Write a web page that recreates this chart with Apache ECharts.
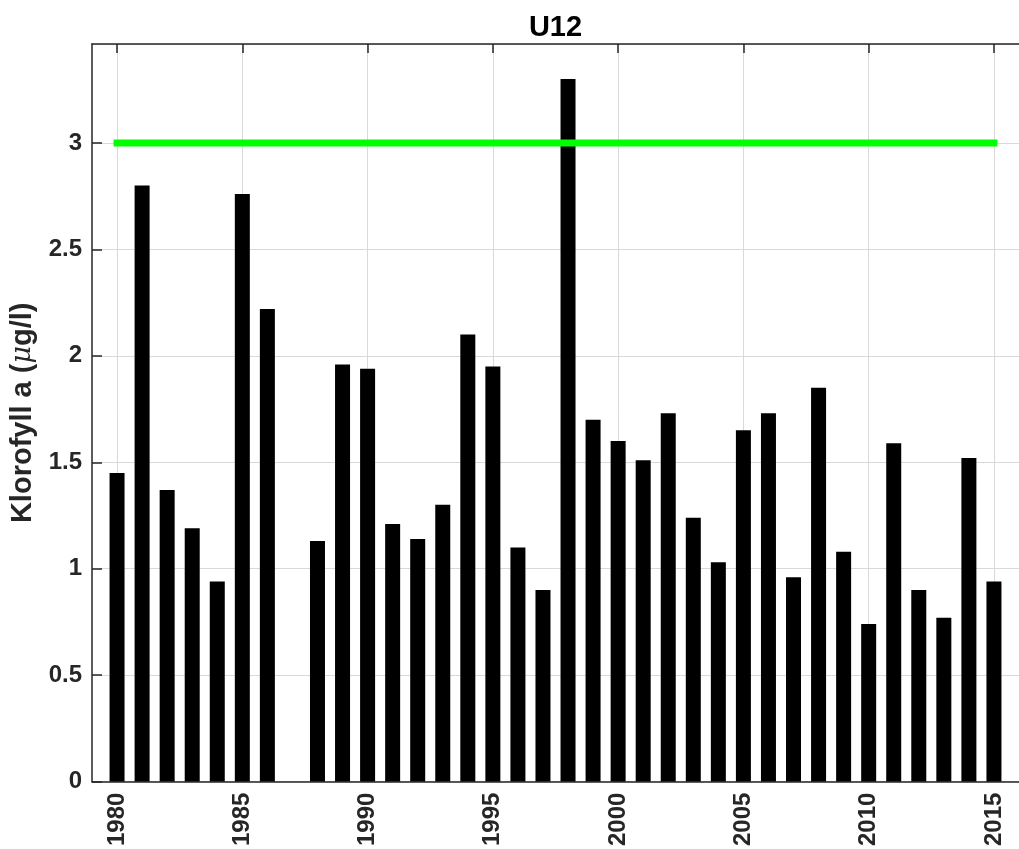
<!DOCTYPE html>
<html>
<head>
<meta charset="utf-8">
<script src="https://cdn.jsdelivr.net/npm/echarts@6/dist/echarts.min.js"></script>
<style>
  html, body { margin: 0; padding: 0; background: #fff; }
  #chart { width: 1019px; height: 849px; }
</style>
</head>
<body>
<div id="chart"></div>
<script>
    // axis runs a year beyond the data on each side
    var axisYears = [];
    for (var y = 1979; y <= 2016; y++) axisYears.push(String(y));

    var years = [1980, 1981, 1982, 1983, 1984, 1985, 1986, 1987, 1988, 1989,
        1990, 1991, 1992, 1993, 1994, 1995, 1996, 1997, 1998, 1999,
        2000, 2001, 2002, 2003, 2004, 2005, 2006, 2007, 2008, 2009,
        2010, 2011, 2012, 2013, 2014, 2015];
    var klorofyll = [1.45, 2.80, 1.37, 1.19, 0.94, 2.76, 2.22, null, 1.13, 1.96,
        1.94, 1.21, 1.14, 1.30, 2.10, 1.95, 1.10, 0.90, 3.30, 1.70,
        1.60, 1.51, 1.73, 1.24, 1.03, 1.65, 1.73, 0.96, 1.85, 1.08,
        0.74, 1.59, 0.90, 0.77, 1.52, 0.94];

    // target level, drawn from first to last year
    var limitYears = [1980, 2015];
    var limitValue = 3;

    var yTicks = ['0', '0.5', '1', '1.5', '2', '2.5', '3'];

    var font = "'Liberation Sans', Arial, Helvetica, sans-serif";
    var frame = '#262626';
    var grid = '#d9d9d9';

    function every5(index, value) {
        return Number(value) % 5 === 0;
    }

    var chart = echarts.init(document.getElementById('chart'), null, { renderer: 'canvas' });

    chart.setOption({
        animation: false,
        backgroundColor: '#fff',
        grid: {
            left: 92,
            top: 44,
            width: 937.5,
            height: 739,
            containLabel: false
        },
        xAxis: [{
            type: 'category',
            data: axisYears,
            boundaryGap: false,
            position: 'bottom',
            axisLine: { show: true, lineStyle: { color: frame, width: 1.5 } },
            axisTick: { show: true, inside: true, length: 9, interval: every5, lineStyle: { color: frame, width: 1.5 } },
            axisLabel: {
                interval: every5,
                rotate: 90,
                margin: 11,
                color: frame,
                fontFamily: font,
                fontWeight: 'bold',
                fontSize: 24
            },
            splitLine: { show: true, interval: every5, lineStyle: { color: grid, width: 1 } }
        }, {
            type: 'category',
            data: axisYears,
            boundaryGap: false,
            position: 'top',
            name: 'U12',
            nameLocation: 'middle',
            nameGap: 2,
            nameTextStyle: {
                color: '#000',
                fontFamily: font,
                fontWeight: 'bold',
                fontSize: 29,
                verticalAlign: 'bottom'
            },
            axisLine: { show: true, lineStyle: { color: frame, width: 1.5 } },
            axisTick: { show: true, inside: true, length: 9, interval: every5, lineStyle: { color: frame, width: 1.5 } },
            axisLabel: { show: false },
            splitLine: { show: false }
        }],
        yAxis: {
            type: 'value',
            min: 0,
            max: 3.465,
            interval: 0.5,
            name: '{b|Klorofyll a (}{m|μ}{b|g/l)}',
            nameLocation: 'middle',
            nameGap: 54,
            nameTextStyle: {
                rich: {
                    b: { color: frame, fontFamily: font, fontWeight: 'bold', fontSize: 29 },
                    m: { color: frame, fontFamily: "'DejaVu Serif', serif", fontStyle: 'italic', fontSize: 27 }
                }
            },
            axisLine: { show: true, lineStyle: { color: frame, width: 1.5 } },
            axisTick: { show: true, inside: true, length: 10, lineStyle: { color: frame, width: 1.5 } },
            axisLabel: {
                showMaxLabel: false,
                margin: 10,
                color: frame,
                fontFamily: font,
                fontWeight: 'bold',
                fontSize: 24,
                formatter: function (v) {
                    var s = String(Math.round(v * 10) / 10);
                    return yTicks.indexOf(s) >= 0 ? s : '';
                }
            },
            splitLine: { show: true, lineStyle: { color: grid, width: 1 } }
        },
        series: [{
            type: 'bar',
            name: 'Klorofyll a',
            data: years.map(function (yr, i) { return [String(yr), klorofyll[i]]; }),
            barWidth: 15,
            itemStyle: { color: '#000' },
            z: 2
        }, {
            type: 'line',
            name: 'Gräns',
            data: limitYears.map(function (yr) { return [String(yr), limitValue]; }),
            symbol: 'none',
            lineStyle: { color: '#00ff00', width: 7, cap: 'square' },
            z: 3
        }]
    });
</script>
</body>
</html>
